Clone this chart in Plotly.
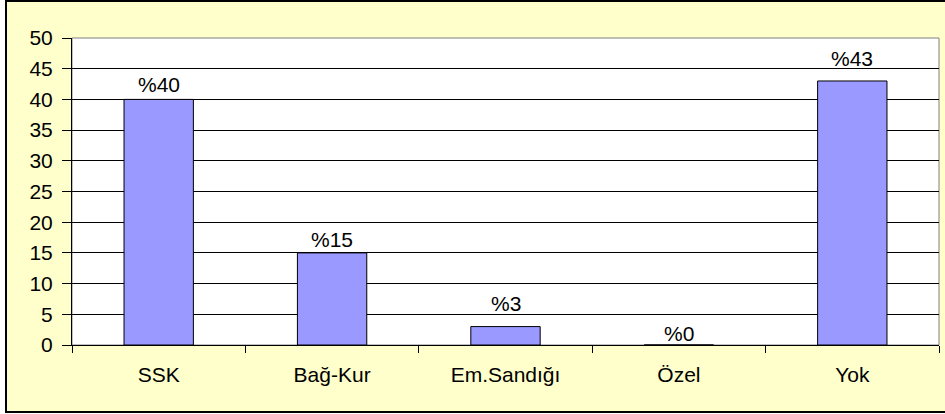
import plotly.graph_objects as go

categories = ["SSK", "Bağ-Kur", "Em.Sandığı", "Özel", "Yok"]
values = [40, 15, 3, 0, 43]
labels = ["%" + str(v) for v in values]
y_ticks = [0, 5, 10, 15, 20, 25, 30, 35, 40, 45, 50]

# extra vertical offset (px) of each value label above its bar, as in the source
label_shift = [1, 0, 10, -2, 9]

FONT = "Liberation Sans, Arial, sans-serif"
FS = 21

fig = go.Figure(go.Bar(
    x=categories, y=values,
    marker=dict(color="#9999FF", line=dict(color="black", width=1)),
    cliponaxis=False, width=0.4,
))

for c, v, t, s in zip(categories, values, labels, label_shift):
    fig.add_annotation(x=c, y=v, text=t, showarrow=False, yanchor="bottom",
                       xanchor="center", yshift=s,
                       font=dict(family=FONT, size=FS, color="black"))

W, H = 945, 414
L, R, T, B = 72, 6, 38, 69
pw, ph = W - L - R, H - T - B

def px_x(p):
    return (p - L) / pw

def px_y(p):
    return (H - B - p) / ph

fig.update_layout(
    width=W, height=H,
    margin=dict(l=L, r=R, t=T, b=B, pad=0),
    paper_bgcolor="white", plot_bgcolor="white",
    showlegend=False,
    font=dict(family=FONT, size=FS, color="black"),
    shapes=[
        dict(type="rect", xref="paper", yref="paper", layer="below",
             x0=px_x(6), x1=px_x(949), y0=px_y(412), y1=px_y(1),
             fillcolor="#FFFFCC", line=dict(color="black", width=2)),
        dict(type="rect", xref="paper", yref="paper", layer="below",
             x0=0, x1=1, y0=0, y1=1,
             fillcolor="white", line=dict(color="#808080", width=1)),
    ],
    xaxis=dict(
        showgrid=False, showline=True, linecolor="black", linewidth=1,
        ticks="outside", tickson="boundaries", ticklen=7, tickcolor="black",
        tickfont=dict(size=FS), ticklabelstandoff=11,
    ),
    yaxis=dict(
        range=[0, 50], tickvals=y_ticks, showgrid=True, gridcolor="black",
        gridwidth=1, showline=True, linecolor="black", linewidth=1,
        ticks="outside", ticklen=9, tickcolor="black", zeroline=False,
        tickfont=dict(size=FS), ticklabelstandoff=5,
    ),
)

fig.write_html(
    "out.html",
    config={"displayModeBar": False},
    post_script="document.body.style.margin='0px';document.body.style.overflow='hidden';",
)
